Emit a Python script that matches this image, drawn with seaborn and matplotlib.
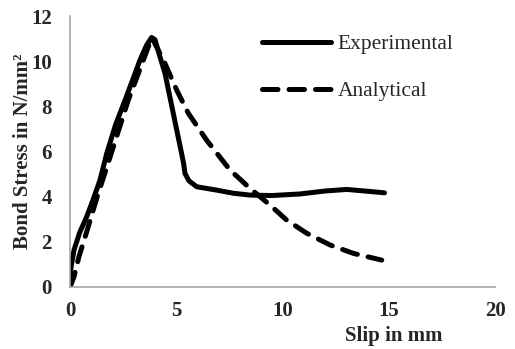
import numpy as np
import pandas as pd
import matplotlib
matplotlib.use("Agg")
import matplotlib.pyplot as plt
import seaborn as sns

# ---- data ----
exp_x = [0, 0.05, 0.19, 0.45, 0.78, 1.1, 1.41, 1.73, 2.15, 2.59, 3.0, 3.29, 3.6, 3.84,
         4.0, 4.2, 4.47, 4.86, 5.25, 5.35, 5.41, 5.6, 5.96, 6.9, 7.69, 8.47,
         9.5, 10.82, 12.0, 13.02, 14.0, 14.8]
exp_y = [0, 0.9, 1.64, 2.4, 3.1, 3.9, 4.73, 5.92, 7.2, 8.27, 9.3, 10.04, 10.7, 11.05,
         10.95, 10.3, 9.46, 7.69, 5.92, 5.45, 5.03, 4.7, 4.44, 4.29, 4.15, 4.07,
         4.05, 4.12, 4.25, 4.32, 4.24, 4.17]

ana_x = [0, 0.19, 0.42, 0.81, 1.28, 1.84, 2.74, 3.45, 3.85, 4.47, 5.02, 5.57, 6.43,
         7.53, 8.47, 9.41, 10.2, 11.14, 12.24, 13.33, 14.67]
ana_y = [0, 0.46, 1.34, 2.52, 4.0, 5.62, 8.27, 10.04, 11.05, 9.9, 8.72, 7.69, 6.5,
         5.18, 4.37, 3.63, 2.96, 2.38, 1.86, 1.49, 1.19]

series = ["Experimental", "Analytical"]
x_ticks = [0, 5, 10, 15, 20]
y_ticks = [0, 2, 4, 6, 8, 10, 12]

df = pd.concat([
    pd.DataFrame({"slip": exp_x, "stress": exp_y, "series": series[0]}),
    pd.DataFrame({"slip": ana_x, "stress": ana_y, "series": series[1]}),
], ignore_index=True)

sns.set_theme(style="white")
plt.rcParams["font.family"] = ["Liberation Serif", "DejaVu Serif"]

fig = plt.figure(figsize=(5.15, 3.49), dpi=100)
ax = fig.add_axes([70 / 515, 1 - 287 / 349, (495 - 70) / 515, (287 - 16) / 349])

sns.lineplot(data=df, x="slip", y="stress", hue="series", style="series",
             hue_order=series, style_order=series,
             palette={"Experimental": "black", "Analytical": "black"},
             dashes={"Experimental": "", "Analytical": (3.1, 2.2)},
             sort=False, estimator=None, linewidth=3.6, legend=False, ax=ax,
             solid_capstyle="round", dash_capstyle="round", solid_joinstyle="round",
             dash_joinstyle="round")

ax.set_xlim(0, 20)
ax.set_ylim(0, 12)
ax.set_xticks(x_ticks)
ax.set_yticks(y_ticks)
ax.set_xticklabels([str(v) for v in x_ticks], fontsize=15, fontweight="bold")
ax.set_yticklabels([str(v) for v in y_ticks], fontsize=15, fontweight="bold")
ax.tick_params(axis="x", length=0, pad=10)
ax.tick_params(axis="y", length=0, pad=13)
for s in ["top", "right"]:
    ax.spines[s].set_visible(False)
for s in ["left", "bottom"]:
    ax.spines[s].set_color("#a6a6a6")
    ax.spines[s].set_linewidth(1.2)
ax.grid(False)
ax.set_xlabel("")
ax.set_ylabel("")

fig.text(394 / 515, 1 - 336 / 349, "Slip in mm", ha="center", va="center",
         fontsize=15, fontweight="bold")
fig.text(23 / 515, 1 - 151 / 349, "Bond Stress in N/mm²", ha="center", va="center",
         rotation=90, fontsize=15, fontweight="bold")

lines = ax.get_lines()[:2]
leg = ax.legend(handles=lines, labels=series, loc="upper left",
                bbox_to_anchor=(262 / 515, 1 - 34 / 349), bbox_transform=fig.transFigure,
                frameon=False, fontsize=15.5, handlelength=3.2, handletextpad=0.3,
                labelspacing=1.25, borderpad=0, borderaxespad=0)

fig.savefig("out.png", dpi=100)
